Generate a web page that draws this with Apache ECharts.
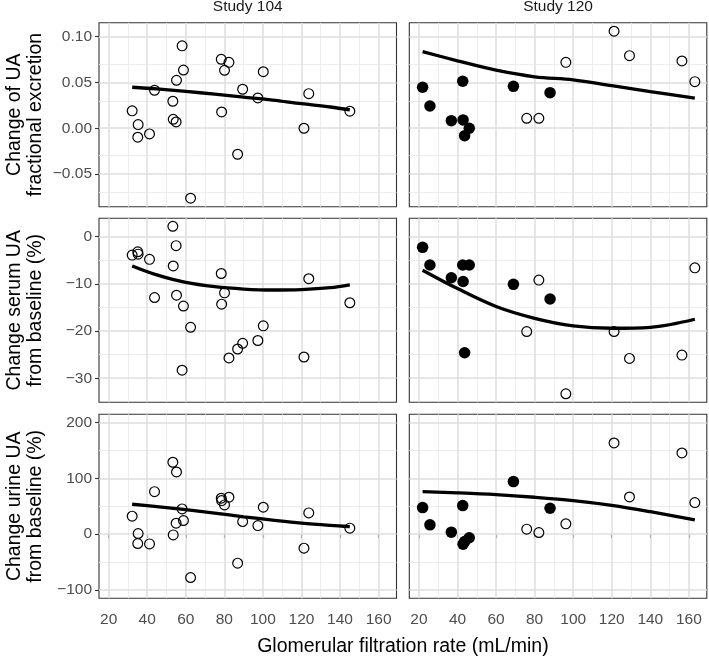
<!DOCTYPE html>
<html>
<head>
<meta charset="utf-8">
<script src="https://cdn.jsdelivr.net/npm/echarts@6/dist/echarts.min.js"></script>
<style>
  html, body { margin: 0; padding: 0; background: #fff; }
  #chart { width: 709px; height: 658px; }
</style>
</head>
<body>
<div id="chart"></div>
<script>
// ---------------- data ----------------
const studies = ['Study 104', 'Study 120'];
const rowTitles = ['Change of UA\nfractional excretion', 'Change serum UA\nfrom baseline (%)', 'Change urine UA\nfrom baseline (%)'];
const xTitle = 'Glomerular filtration rate (mL/min)';

const xTicks = [20, 40, 60, 80, 100, 120, 140, 160];
const feTicks = [-0.05, 0, 0.05, 0.10];
const serumTicks = [-30, -20, -10, 0];
const urineTicks = [-100, 0, 100, 200];

// Study 104 (all open circles)
const gfr104 = [32.2, 35.1, 35.3, 41.2, 43.8, 53.3, 53.5, 55.0, 55.2, 58.1, 58.8, 62.5, 78.4, 78.6, 80.1, 82.4, 86.9, 89.5, 97.4, 100.2, 121.3, 123.8, 145.1];
const fe104 = [0.019, -0.0098, 0.004, -0.0062, 0.0415, 0.0295, 0.0098, 0.0069, 0.0524, 0.090, 0.0636, -0.0764, 0.0753, 0.0178, 0.0633, 0.0720, -0.0284, 0.0426, 0.0331, 0.0618, 0.000, 0.0378, 0.0186];
const serum104 = [-3.9, -3.2, -3.7, -4.8, -12.9, 2.2, -6.2, -1.9, -12.4, -28.3, -14.7, -19.2, -7.8, -14.3, -11.9, -25.7, -23.8, -22.6, -22.0, -18.9, -25.5, -8.9, -14.0];
const urine104 = [32.3, -16.8, 1.1, -17.4, 76.3, 129, -1.3, 19.7, 111.6, 45.3, 24.4, -77.8, 64.5, 60.2, 52.5, 66.3, -52, 22.6, 15.4, 48.4, -25.1, 38.2, 10.8];

// Study 120 (filled = 1, open = 0)
const gfr120 = [21.9, 25.7, 36.8, 42.7, 42.9, 43.7, 46.1, 69.0, 88.0, 75.9, 82.2, 96.2, 121.2, 129.2, 156.4, 163.1];
const filled120 = [1, 1, 1, 1, 1, 1, 1, 1, 1, 0, 0, 0, 0, 0, 0, 0];
const fe120 = [0.0448, 0.0243, 0.0083, 0.0513, 0.0091, -0.0081, 0.000, 0.0458, 0.0389, 0.0109, 0.0109, 0.072, 0.106, 0.0793, 0.0735, 0.0509];
const serum120 = [-2.25, -6.0, -8.7, -6.0, -9.5, -24.6, -6.0, -10.1, -13.2, -20.1, -9.2, -33.3, -20.1, -25.8, -25.1, -6.6];
const urine120 = [47.7, 16.7, 3.6, 51.3, -17.9, -13.3, -6.5, 94.3, 46.6, 9.0, 2.9, 18.5, 163.6, 66.8, 145.7, 56.6];

// Smoothed trend lines
const fitX104 = [32.2, 45, 60, 75, 90, 105, 120, 135, 145.1];
const fitFe104 = [0.0448, 0.0430, 0.0403, 0.0372, 0.0340, 0.0308, 0.0268, 0.0232, 0.0200];
const fitSerum104 = [-6.2, -8.1, -9.7, -10.6, -11.1, -11.3, -11.2, -10.8, -10.2];
const fitUrine104 = [53.7, 49.4, 44.0, 37.9, 31.2, 25.3, 19.9, 15.8, 13.6];

const fitX120 = [21.9, 40, 60, 80, 100, 120, 140, 163.1];
const fitFe120 = [0.0836, 0.0737, 0.0634, 0.0562, 0.0528, 0.0465, 0.0401, 0.0328];
const fitSerum120 = [-7.1, -11.0, -14.8, -17.3, -18.9, -19.4, -19.2, -17.5];
const fitUrine120 = [76.3, 74.1, 70.9, 66.2, 60.2, 51.7, 40.3, 25.6];

// ---------------- layout ----------------
const FONT = 'Liberation Sans, Arial, Helvetica, sans-serif';
const xRange = [15, 169.3];
const yRanges = [[-0.0857, 0.1153], [-35.1, 3.9], [-115, 215]];
const yTickSets = [feTicks, serumTicks, urineTicks];
const colLeft = [99, 409.3];
const panelW = 297.5;
const rowTop = [22.7, 218.3, 414.3];
const panelH = 184;

function minors(ticks, lo, hi) {
  const step = ticks[1] - ticks[0];
  const out = [];
  for (let i = -1; i < ticks.length; i++) {
    const v = (i < 0 ? ticks[0] - step : ticks[i]) + step / 2;
    if (v > lo && v < hi) out.push(+v.toFixed(6));
  }
  return out;
}
function fmt(v, dec) {
  const s = dec ? Math.abs(v).toFixed(dec) : String(Math.abs(v));
  return (v < 0 ? '\u2212' : '') + s;
}
function zip(xs, ys, mask, want) {
  const out = [];
  for (let i = 0; i < xs.length; i++) {
    if (!mask || mask[i] === want) out.push([xs[i], ys[i]]);
  }
  return out;
}

const panelData = [
  [ {x: gfr104, y: fe104, mask: null, fx: fitX104, fy: fitFe104}, {x: gfr120, y: fe120, mask: filled120, fx: fitX120, fy: fitFe120} ],
  [ {x: gfr104, y: serum104, mask: null, fx: fitX104, fy: fitSerum104}, {x: gfr120, y: serum120, mask: filled120, fx: fitX120, fy: fitSerum120} ],
  [ {x: gfr104, y: urine104, mask: null, fx: fitX104, fy: fitUrine104}, {x: gfr120, y: urine120, mask: filled120, fx: fitX120, fy: fitUrine120} ]
];

const grids = [], xAxes = [], yAxes = [], series = [];
const xMinor = minors(xTicks, xRange[0], xRange[1]);
const tickStyle = {color: '#333333', width: 1.1};
const labelBase = {fontFamily: FONT, fontSize: 15.5, color: '#4d4d4d'};

for (let r = 0; r < 3; r++) {
  const yt = yTickSets[r];
  const yMin = minors(yt, yRanges[r][0] + 0.2 * (yt[1] - yt[0]) / 10, yRanges[r][1]);
  const dec = r === 0 ? 2 : 0;
  for (let c = 0; c < 2; c++) {
    const idx = r * 2 + c;
    grids.push({
      left: colLeft[c], top: rowTop[r], width: panelW, height: panelH,
      show: true, borderColor: '#333333', borderWidth: 1.1, backgroundColor: '#ffffff'
    });
    xAxes.push({
      type: 'value', gridIndex: idx, min: xRange[0], max: xRange[1],
      splitLine: {show: false}, axisLine: {show: false},
      axisTick: {show: r === 2, customValues: xTicks, length: 4, lineStyle: tickStyle},
      axisLabel: Object.assign({show: r === 2, customValues: xTicks, margin: 13}, labelBase)
    });
    yAxes.push({
      type: 'value', gridIndex: idx, min: yRanges[r][0], max: yRanges[r][1],
      splitLine: {show: false}, axisLine: {show: false},
      axisTick: {show: c === 0, customValues: yt, length: 4, lineStyle: tickStyle},
      axisLabel: Object.assign({show: c === 0, customValues: yt, margin: 7,
        formatter: v => fmt(v, dec)}, labelBase)
    });

    const pd = panelData[r][c];
    const fit = zip(pd.fx, pd.fy);
    const gridLines = [];
    xMinor.forEach(v => gridLines.push({xAxis: v, lineStyle: {color: '#ebebeb', width: 0.9, type: 'solid'}}));
    yMin.forEach(v => gridLines.push({yAxis: v, lineStyle: {color: '#ebebeb', width: 0.9, type: 'solid'}}));
    xTicks.forEach(v => gridLines.push({xAxis: v, lineStyle: {color: '#dedede', width: 1.5, type: 'solid'}}));
    yt.forEach(v => gridLines.push({yAxis: v, lineStyle: {color: '#dedede', width: 1.5, type: 'solid'}}));

    series.push({
      type: 'line', xAxisIndex: idx, yAxisIndex: idx, data: fit, z: 1,
      symbol: 'none', silent: true, lineStyle: {width: 0, opacity: 0},
      markLine: {silent: true, z: 1, symbol: 'none', label: {show: false}, animation: false,
        lineStyle: {type: 'solid'}, emphasis: {disabled: true}, data: gridLines}
    });
    const openPts = pd.mask ? zip(pd.x, pd.y, pd.mask, 0) : zip(pd.x, pd.y);
    series.push({
      type: 'scatter', xAxisIndex: idx, yAxisIndex: idx, data: openPts, z: 6,
      symbol: 'circle', symbolSize: 9.8,
      itemStyle: {color: 'rgba(0,0,0,0)', borderColor: '#000000', borderWidth: 1.2, opacity: 1}
    });
    if (pd.mask) {
      series.push({
        type: 'scatter', xAxisIndex: idx, yAxisIndex: idx, data: zip(pd.x, pd.y, pd.mask, 1), z: 6,
        symbol: 'circle', symbolSize: 11.5, itemStyle: {color: '#000000', opacity: 1}
      });
    }
    series.push({
      type: 'line', xAxisIndex: idx, yAxisIndex: idx, data: fit, z: 7,
      symbol: 'none', smooth: 0.35, lineStyle: {color: '#000000', width: 3.3}
    });
  }
}

const graphics = [];
studies.forEach((s, c) => graphics.push({
  type: 'text', x: colLeft[c] + panelW / 2, y: 7, silent: true,
  style: {text: s, fontFamily: FONT, fontSize: 15.5, fill: '#1a1a1a', align: 'center', verticalAlign: 'middle'}
}));
rowTitles.forEach((t, r) => graphics.push({
  type: 'text', x: 25, y: rowTop[r] + panelH / 2, rotation: Math.PI / 2, silent: true,
  style: {text: t, fontFamily: FONT, fontSize: 19.5, lineHeight: 21, fill: '#000000', align: 'center', verticalAlign: 'middle'}
}));
graphics.push({
  type: 'text', x: colLeft[0] + (colLeft[1] + panelW - colLeft[0]) / 2, y: 646.7, silent: true,
  style: {text: xTitle, fontFamily: FONT, fontSize: 19.5, fill: '#000000', align: 'center', verticalAlign: 'middle'}
});

const chart = echarts.init(document.getElementById('chart'), null, {renderer: 'canvas'});
chart.setOption({
  animation: false,
  backgroundColor: '#ffffff',
  grid: grids, xAxis: xAxes, yAxis: yAxes, series: series, graphic: graphics
});
</script>
</body>
</html>
